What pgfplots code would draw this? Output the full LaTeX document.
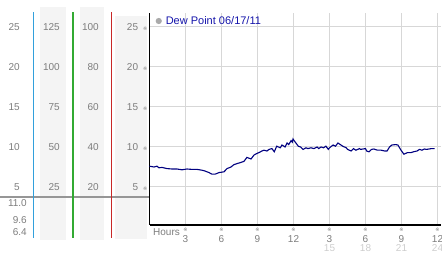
\documentclass[border=0pt]{standalone}
\usepackage{pgfplots}
\pgfplotsset{compat=1.18}
\usepackage{fontspec}
\setmainfont{Liberation Sans}
\newfontfamily\symfont{DejaVu Sans}
\definecolor{tickgray}{RGB}{125,125,125}
\definecolor{lightnum}{RGB}{205,205,205}
\definecolor{gridgray}{RGB}{215,215,215}
\definecolor{panelbg}{RGB}{244,244,244}
\definecolor{sepgray}{RGB}{150,150,150}
\definecolor{legendblue}{RGB}{20,20,170}
\definecolor{dewnavy}{RGB}{0,0,128}
\definecolor{circgray}{RGB}{170,170,170}
\newcommand\tm{{\symfont\fontsize{5}{5}\selectfont ※}}
\newcommand\ytl[1]{#1\hspace{5pt}\tm}
\newcommand\xtl[2]{\begin{tabular}[t]{@{}c@{}}\tm\\[-1.5pt]#1\\[-3pt]\textcolor{lightnum}{#2}\end{tabular}}
\pgfplotstableread{
h v
0.00 7.6
0.38 7.5
0.62 7.6
0.79 7.4
1.04 7.45
1.46 7.3
1.88 7.25
2.29 7.25
2.71 7.15
3.12 7.25
3.54 7.2
3.96 7.2
4.37 7.1
4.62 7.0
4.96 6.8
5.20 6.6
5.46 6.6
5.79 6.8
6.21 6.9
6.46 7.3
6.79 7.5
7.04 7.8
7.46 8.0
7.87 8.2
8.12 8.7
8.46 8.5
8.71 9.0
8.96 9.2
9.12 9.3
9.37 9.5
9.54 9.6
9.79 9.5
9.96 9.7
10.20 9.8
10.40 9.4
10.60 10.1
10.90 9.9
11.04 10.25
11.30 10.0
11.46 10.5
11.60 10.3
11.80 10.8
11.90 10.6
11.96 11.0
12.10 10.7
12.40 10.1
12.60 10.0
12.80 9.7
13.04 9.9
13.20 9.8
13.46 9.9
13.70 9.8
13.96 10.0
14.10 9.8
14.30 10.0
14.50 9.9
14.70 10.1
14.90 9.7
15.00 9.9
15.30 10.25
15.50 10.1
15.70 10.5
15.90 10.3
16.10 10.1
16.40 9.9
16.50 9.7
16.80 9.5
17.00 9.8
17.20 9.6
17.50 9.8
17.60 9.7
18.00 9.8
18.10 9.5
18.30 9.4
18.50 9.7
18.70 9.75
19.00 9.6
19.30 9.6
19.60 9.5
19.80 9.5
20.00 10.0
20.20 10.25
20.50 10.3
20.70 10.25
20.96 9.6
21.20 9.1
21.50 9.3
21.80 9.3
22.00 9.4
22.30 9.5
22.50 9.7
22.70 9.6
22.90 9.75
23.10 9.7
23.50 9.8
23.75 9.8
}\dewdata
\begin{document}
\begin{tikzpicture}[font=\fontsize{10}{12}\selectfont]
\useasboundingbox (0,0) rectangle (442pt,-253pt);
% left scale panels
\fill[panelbg] (40pt,-7pt) rectangle (65.7pt,-240pt);
\fill[panelbg] (80pt,-7pt) rectangle (104pt,-240pt);
\fill[panelbg] (115pt,-16pt) rectangle (147pt,-239pt);
\draw[draw=sepgray, line width=2pt] (0pt,-197pt) -- (149pt,-197pt);
\foreach \y/\a/\b/\c in {27/25/125/100, 67/20/100/80, 107/15/75/60, 147/10/50/40, 187/5/25/20}{
  \node[anchor=east, inner sep=0pt, text=tickgray] at (20pt,-\y pt) {\a};
  \node[anchor=east, inner sep=0pt, text=tickgray] at (60pt,-\y pt) {\b};
  \node[anchor=east, inner sep=0pt, text=tickgray] at (99pt,-\y pt) {\c};
}
\node[anchor=east, inner sep=0pt, text=tickgray] at (27pt,-203.5pt) {11.0};
\node[anchor=east, inner sep=0pt, text=tickgray] at (27pt,-220pt) {9.6};
\node[anchor=east, inner sep=0pt, text=tickgray] at (27pt,-232pt) {6.4};
\fill[color={rgb,255:red,50;green,160;blue,220}] (32.6pt,-12pt) rectangle (34.2pt,-238pt);
\fill[color={rgb,255:red,51;green,170;blue,51}] (72pt,-12pt) rectangle (73.5pt,-238pt);
\fill[color={rgb,255:red,200;green,40;blue,40}] (110.6pt,-12pt) rectangle (112.2pt,-238pt);
\begin{axis}[
  at={(149.5pt,-225pt)}, anchor=south west,
  scale only axis, width=291.6pt, height=212pt,
  xmin=0, xmax=24.3, ymin=0.25, ymax=26.75,
  axis x line*=bottom, axis y line*=left,
  axis line style={-, black, line width=1.6pt},
  major tick length=0pt,
  xtick={3,6,9,12,15,18,21,24},
  xticklabels={\xtl{3}{},\xtl{6}{},\xtl{9}{},\xtl{12}{},\xtl{3}{15},\xtl{6}{18},\xtl{9}{21},\xtl{12}{24}},
  ytick={5,10,15,20,25},
  yticklabels={\ytl{5},\ytl{10},\ytl{15},\ytl{20},\ytl{25}},
  xticklabel style={inner sep=0pt, anchor=north, yshift=2pt, text=tickgray},
  yticklabel style={inner sep=0pt, anchor=east, xshift=-2pt, text=tickgray},
  /pgf/number format/assume math mode=true,
  grid=major, major grid style={gridgray, line width=1pt},
  legend style={at={(axis cs:0.5,25.75)}, anchor=west, draw=none, fill=none,
    inner sep=0pt, text=legendblue, font=\fontsize{11}{13}\selectfont,
    nodes={inner sep=0pt}, /tikz/every odd column/.style={column sep=4pt}},
  legend image code/.code={\fill[circgray] (2.5pt,0pt) circle (2.5pt);},
  clip=false,
]
\addplot[dewnavy, line width=1.1pt] table[x=h, y=v] {\dewdata};
\addlegendentry{Dew Point 06/17/11}
\end{axis}
\node[anchor=west, inner sep=0pt, text=tickgray] at (153pt,-232pt) {Hours};
\end{tikzpicture}
\end{document}
